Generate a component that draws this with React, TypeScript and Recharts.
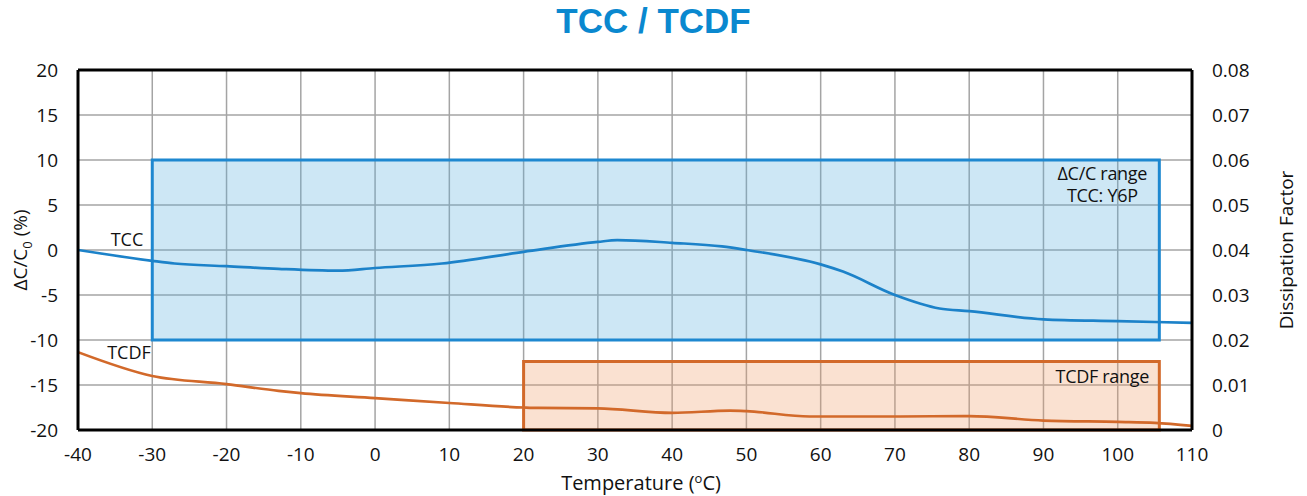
import {
  ComposedChart, Line, XAxis, YAxis, CartesianGrid, ReferenceArea, ReferenceLine,
} from "recharts";

// temperature axis (°C)
const xTicks = [-40, -30, -20, -10, 0, 10, 20, 30, 40, 50, 60, 70, 80, 90, 100, 110];
const capTicks = [-20, -15, -10, -5, 0, 5, 10, 15, 20];
const dfTicks = [0, 0.01, 0.02, 0.03, 0.04, 0.05, 0.06, 0.07, 0.08];

// TCC curve, ΔC/C0 in %
const tccTemp = [-40, -30, -27, -20, -13, -5, 0, 9, 20, 30, 32.6, 40, 46.7, 50, 60, 63, 70, 76, 80, 90, 100, 110];
const tccVal = [0, -1.2, -1.5, -1.8, -2.1, -2.3, -2.0, -1.5, -0.2, 0.9, 1.1, 0.8, 0.4, 0, -1.6, -2.4, -5.0, -6.5, -6.8, -7.7, -7.9, -8.1];

// TCDF curve, dissipation factor
const dfTemp = [-40, -30, -20, -13, -10, 0, 10, 20, 22, 30, 40, 47.8, 50, 58.5, 70, 80, 90, 100, 105, 110];
const dfVal = [0.0173, 0.012, 0.0102, 0.0087, 0.0082, 0.0071, 0.006, 0.005, 0.0049, 0.0048, 0.0038, 0.0043, 0.0042, 0.003, 0.003, 0.0031, 0.0021, 0.0018, 0.0016, 0.0009];

// spec windows
const tccRange = { x1: -30, x2: 105.6, y1: -10, y2: 10 };
const dfRange = { x1: 20, x2: 105.6, y1: 0, y2: 0.0152 };

const tccData = tccTemp.map((t, i) => ({ t, v: tccVal[i] }));
const dfData = dfTemp.map((t, i) => ({ t, v: dfVal[i] }));

const FONT = "'Open Sans', sans-serif";
const BLUE = "#1c82c9";
const ORANGE = "#d2692a";
const INK = "#111";

const tickStyle = { fontFamily: FONT, fontSize: 19, fill: INK };

function startLabel(text: string, dx: number, dy: number) {
  return (props: any) => {
    if (props.index !== 0) return null;
    return (
      <text x={props.x + dx} y={props.y + dy} fontFamily={FONT} fontSize={18} fill={INK} textAnchor="middle">
        {text}
      </text>
    );
  };
}

function boxLabel(lines: string[], dy: number) {
  return (props: any) => {
    const vb = props.viewBox;
    return (
      <text fontFamily={FONT} fontSize={18} fill={INK} textAnchor="middle" letterSpacing={-0.3}>
        {lines.map((l, i) => (
          <tspan key={i} x={vb.x + vb.width - 57} y={vb.y + dy + i * 22}>{l}</tspan>
        ))}
      </text>
    );
  };
}

export default function App() {
  return (
    <div style={{ position: "absolute", top: 0, left: 0, width: 1307, height: 496, background: "#fff" }}>
      <div
        style={{
          position: "absolute", top: 1, left: 0, width: 1307, textAlign: "center", lineHeight: "40px",
          fontFamily: "'Liberation Sans', Arial, sans-serif", fontWeight: 700, fontSize: 35, color: "#0a88cf",
        }}
      >
        TCC / TCDF
      </div>
      <ComposedChart width={1307} height={496} margin={{ top: 70, right: 0, bottom: 0, left: 0 }}>
        <CartesianGrid stroke="#a4a4a4" strokeWidth={1.5} yAxisId="cap" />
        <XAxis
          type="number" dataKey="t" domain={[-40, 110]} ticks={xTicks} height={66}
          axisLine={{ stroke: "#000", strokeWidth: 3 }} tickLine={false} tick={tickStyle} tickMargin={12}
          allowDataOverflow
          label={() => (
            <text x={641} y={490} fontFamily={FONT} fontSize={20} fill={INK} textAnchor="middle">
              Temperature (<tspan fontSize={13} dy={-7}>o</tspan><tspan dy={7}>C)</tspan>
            </text>
          )}
        />
        <YAxis
          yAxisId="cap" domain={[-20, 20]} ticks={capTicks} width={78}
          axisLine={{ stroke: "#000", strokeWidth: 3 }} tickLine={false} tick={tickStyle} tickMargin={14}
          label={() => (
            <text transform="translate(27,250) rotate(-90)" fontFamily={FONT} fontSize={19} fill={INK} textAnchor="middle">
              ΔC/C<tspan fontSize={13} dy={5}>0</tspan><tspan dy={-5}> (%)</tspan>
            </text>
          )}
        />
        <YAxis
          yAxisId="df" orientation="right" domain={[0, 0.08]} ticks={dfTicks} width={115}
          axisLine={{ stroke: "#000", strokeWidth: 3 }} tickLine={false} tick={{ ...tickStyle, textAnchor: "start" }} tickMargin={14}
          tickFormatter={(v: number) => (v === 0 ? "0" : v.toFixed(2))}
          label={() => (
            <text transform="translate(1293,250) rotate(-90)" fontFamily={FONT} fontSize={19} fill={INK} textAnchor="middle">
              Dissipation Factor
            </text>
          )}
        />
        <ReferenceArea
          yAxisId="cap" {...tccRange} fill="#5aaedf" fillOpacity={0.3} stroke="#1e88d0" strokeWidth={3}
          label={boxLabel(["ΔC/C range", "TCC: Y6P"], 20)}
        />
        <ReferenceArea
          yAxisId="df" {...dfRange} fill="#ef9c66" fillOpacity={0.3} stroke={ORANGE} strokeWidth={3}
          label={boxLabel(["TCDF range"], 21)}
        />
        <ReferenceLine yAxisId="cap" y={20} stroke="#000" strokeWidth={3} />
        <Line
          yAxisId="cap" data={tccData} dataKey="v" type="monotone" stroke={BLUE} strokeWidth={2.7}
          dot={false} isAnimationActive={false} label={startLabel("TCC", 49, -4)}
        />
        <Line
          yAxisId="df" data={dfData} dataKey="v" type="monotone" stroke={ORANGE} strokeWidth={2.7}
          dot={false} isAnimationActive={false} label={startLabel("TCDF", 51, 7)}
        />
      </ComposedChart>
    </div>
  );
}
